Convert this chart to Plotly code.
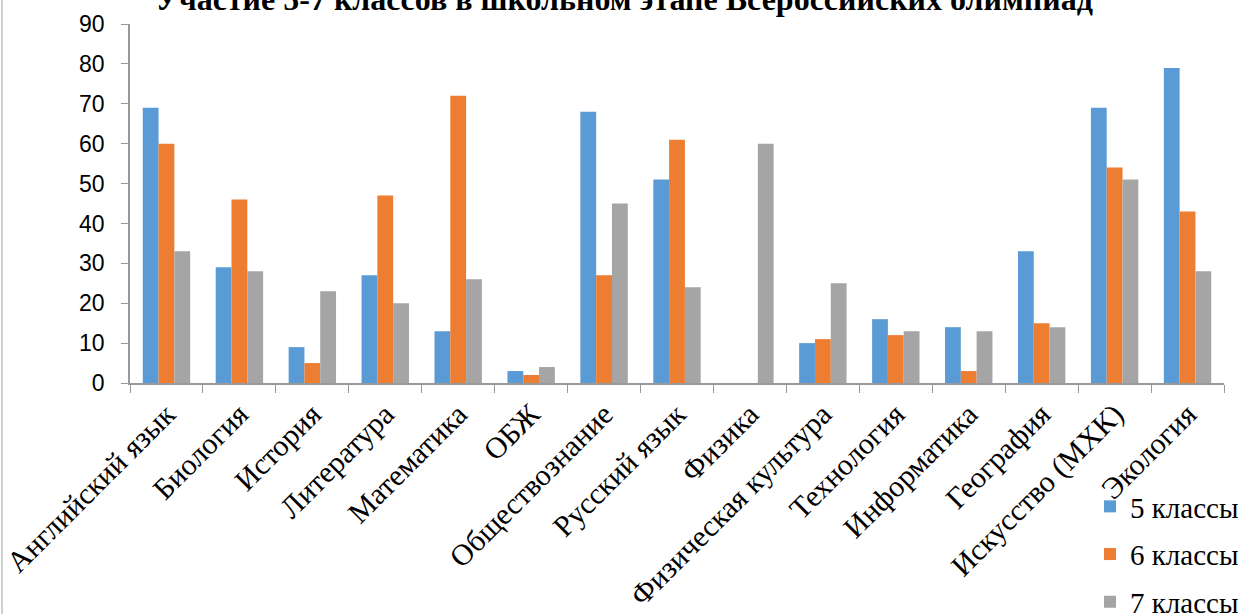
import plotly.graph_objects as go

categories = ["Английский язык", "Биология", "История", "Литература", "Математика",
              "ОБЖ", "Обществознание", "Русский язык", "Физика", "Физическая культура",
              "Технология", "Информатика", "География", "Искусство (МХК)", "Экология"]
grade5 = [69, 29, 9, 27, 13, 3, 68, 51, 0, 10, 16, 14, 33, 69, 79]
grade6 = [60, 46, 5, 47, 72, 2, 27, 61, 0, 11, 12, 3, 15, 54, 43]
grade7 = [33, 28, 23, 20, 26, 4, 45, 24, 60, 25, 13, 13, 14, 51, 28]
series_names = ["5 классы", "6 классы", "7 классы"]
colors = ["#5B9BD5", "#ED7D31", "#A5A5A5"]
y_ticks = list(range(0, 91, 10))
title_text = "Участие 5-7 классов в школьном этапе Всероссийских олимпиад"

W, H = 1239, 614
L, R, T, B = 130, 15, 24, 231

fig = go.Figure()
for name, vals, col in zip(series_names, [grade5, grade6, grade7], colors):
    fig.add_trace(go.Bar(x=categories, y=vals, name=name, legendgroup=name,
                         marker=dict(color=col, line=dict(width=0))))

pw = W - L - R
ph = H - T - B

fig.update_layout(
    width=W, height=H,
    margin=dict(l=L, r=R, t=T, b=B, pad=0, autoexpand=False),
    paper_bgcolor="white", plot_bgcolor="white",
    barmode="group", bargap=0.35, bargroupgap=0,
    title=dict(text="<b>" + title_text + "</b>", x=(624) / W, xanchor="center",
               yref="container", y=1 - 10 / H, yanchor="bottom",
               font=dict(family="Liberation Serif", size=32, color="black")),
    showlegend=True,
    legend=dict(x=(1090 - L) / pw, xanchor="left", y=(H - 481 - B) / ph, yanchor="top",
                orientation="v", bgcolor="rgba(0,0,0,0)", tracegroupgap=7,
                font=dict(family="Liberation Serif", size=29, color="black"),
                itemwidth=30),
    xaxis=dict(type="category", tickangle=-45, tickson="boundaries", ticks="outside",
               ticklen=8, tickcolor="#999999", showline=True, linecolor="#999999",
               linewidth=1.5, showgrid=False, automargin=False,
               tickfont=dict(family="Liberation Serif", size=30, color="black")),
    yaxis=dict(range=[0, 90], tickvals=y_ticks, ticks="outside", ticklen=7,
               tickcolor="#999999", showline=True, linecolor="#999999", linewidth=1.5,
               showgrid=False, zeroline=False, ticklabelstandoff=12, automargin=False,
               tickfont=dict(family="Liberation Sans", size=23, color="black")),
    shapes=[dict(type="line", xref="paper", yref="paper",
                 x0=(2 - L) / pw, x1=(2 - L) / pw, y0=-B / ph, y1=(ph + T) / ph,
                 line=dict(color="#BFBFBF", width=1.5))],
)

fig.write_html("out.html", config={"displayModeBar": False},
               post_script="document.body.style.margin='0';document.body.style.overflow='hidden';")
